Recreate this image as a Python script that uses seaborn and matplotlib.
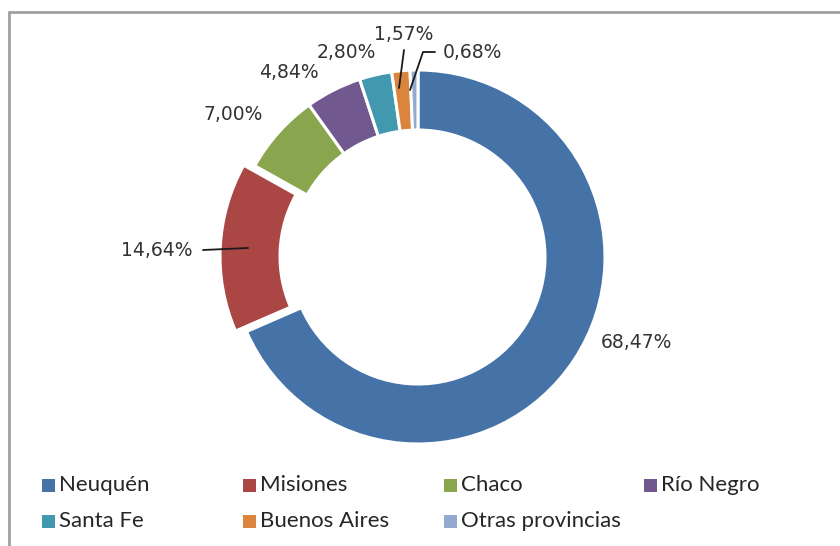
import matplotlib
matplotlib.use("Agg")
import matplotlib.pyplot as plt
import seaborn as sns
from matplotlib.patches import Rectangle
from matplotlib.lines import Line2D

categories = ["Neuquén", "Misiones", "Chaco", "Río Negro", "Santa Fe", "Buenos Aires", "Otras provincias"]
values = [68.47, 14.64, 7.00, 4.84, 2.80, 1.57, 0.68]
colors = ["#4572A7", "#AA4643", "#89A54E", "#71588F", "#4198AF", "#DB843D", "#93A9CF"]

sns.set_theme(style="white")
plt.rcParams["font.family"] = ["DejaVu Sans"]

W, H = 840, 546
fig = plt.figure(figsize=(W / 100, H / 100), dpi=100)
ax = fig.add_axes([0, 0, 1, 1])

def Y(y):
    return H - y

cx, cy, R, ring = 418, 257, 187, 60
explode = [0, 11, 0, 0, 0, 0, 0]
ax.pie(values, colors=colors, center=(cx, Y(cy)), radius=R, startangle=90,
       counterclock=False, explode=explode,
       wedgeprops=dict(width=ring, edgecolor="white", linewidth=2.2))
ax.set_xlim(0, W)
ax.set_ylim(0, H)
ax.set_aspect("equal")
ax.axis("off")

def fmt(v):
    return f"{v:.2f}%".replace(".", ",")

label_pos = [(636, 343), (157, 250), (233, 115), (289, 73), (346, 52), (404, 35), (472, 52)]
for v, (lx, ly) in zip(values, label_pos):
    ax.text(lx, Y(ly), fmt(v), ha="center", va="center", fontsize=13.5, color="#333333")

# leader lines
leaders = [
    [(203, 250), (248, 248)],
    [(404, 50), (399, 88)],
    [(435, 52), (423, 52), (410, 90)],
]
for pts in leaders:
    xs = [p[0] for p in pts]
    ys = [Y(p[1]) for p in pts]
    ax.add_line(Line2D(xs, ys, color="#1a1a1a", lw=1.3))

# legend
col_x = [42, 243, 444, 644]
row_y = [485, 521]
for i, (name, c) in enumerate(zip(categories, colors)):
    x = col_x[i % 4]
    y = row_y[i // 4]
    ax.add_patch(Rectangle((x, Y(y) - 6.5), 13, 13, facecolor=c, edgecolor="none"))
    ax.text(x + 17, Y(y), name, ha="left", va="center", fontsize=16,
            family=["Lato", "DejaVu Sans"], color="#262626")

# frame
ax.add_line(Line2D([9, 9], [0, Y(12)], color="#a0a0a0", lw=2))
ax.add_line(Line2D([9, W], [Y(12), Y(12)], color="#a0a0a0", lw=2))

fig.savefig("out.png", dpi=100)
